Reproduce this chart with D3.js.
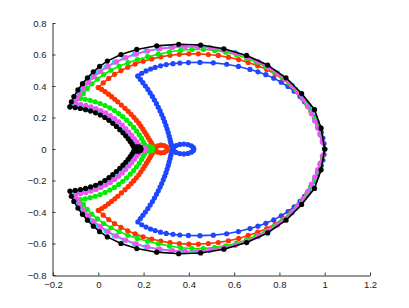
<!DOCTYPE html>
<html>
<head>
<meta charset="utf-8">
<script src="https://cdn.jsdelivr.net/npm/d3@7"></script>
<style>
  html, body { margin: 0; padding: 0; background: #fff; }
  svg { display: block; }
  .tick text { font-family: "Liberation Sans", Arial, sans-serif; font-size: 9.5px; fill: #222; }
</style>
</head>
<body>
<div id="chart"></div>
<script>
// axis ticks
const xTicks = [-0.2, 0, 0.2, 0.4, 0.6, 0.8, 1, 1.2];
const yTicks = [-0.8, -0.6, -0.4, -0.2, 0, 0.2, 0.4, 0.6, 0.8];

// every curve is symmetric about y = 0: upper halves are read off the picture,
// outer arc goes corner -> (1,0), inner arc goes corner -> near the small loop
const blueOuter = [[0.175,0.463],[0.192,0.481],[0.211,0.496],[0.231,0.508],[0.251,0.518],[0.275,0.528],[0.300,0.536],[0.330,0.542],[0.360,0.546],[0.398,0.549],[0.449,0.550],[0.508,0.547],[0.567,0.538],[0.619,0.524],[0.670,0.505],[0.705,0.490],[0.740,0.472],[0.775,0.450],[0.808,0.424],[0.838,0.397],[0.865,0.367],[0.891,0.333],[0.911,0.300],[0.928,0.268],[0.942,0.236],[0.955,0.204],[0.966,0.172],[0.976,0.140],[0.985,0.105],[0.992,0.070],[0.997,0.035],[1.000,0.000]];
const blueInner = [[0.175,0.463],[0.186,0.442],[0.197,0.421],[0.208,0.400],[0.219,0.378],[0.229,0.356],[0.239,0.334],[0.248,0.311],[0.257,0.288],[0.265,0.265],[0.273,0.242],[0.280,0.219],[0.287,0.196],[0.293,0.173],[0.299,0.150],[0.304,0.127],[0.309,0.104],[0.313,0.082],[0.317,0.061],[0.320,0.042],[0.323,0.026],[0.325,0.012]];
const blueLoop = [[0.333,0.012],[0.344,0.022],[0.360,0.029],[0.378,0.031],[0.396,0.028],[0.411,0.020],[0.420,0.009],[0.422,0.000],[0.420,-0.009],[0.411,-0.020],[0.396,-0.028],[0.378,-0.031],[0.360,-0.029],[0.344,-0.022],[0.333,-0.012]];

const redOuter = [[0.000,0.390],[0.022,0.420],[0.046,0.448],[0.072,0.474],[0.100,0.498],[0.130,0.519],[0.163,0.539],[0.198,0.557],[0.236,0.572],[0.276,0.585],[0.317,0.595],[0.358,0.601],[0.400,0.604],[0.442,0.604],[0.486,0.600],[0.530,0.594],[0.575,0.583],[0.620,0.568],[0.662,0.549],[0.704,0.528],[0.744,0.505],[0.782,0.476],[0.817,0.443],[0.849,0.406],[0.877,0.367],[0.901,0.326],[0.922,0.283],[0.940,0.238],[0.956,0.192],[0.969,0.145],[0.980,0.098],[0.990,0.050],[1.000,0.000]];
const redInner = [[0.000,0.390],[0.015,0.378],[0.030,0.364],[0.045,0.348],[0.059,0.332],[0.073,0.316],[0.086,0.300],[0.102,0.279],[0.118,0.258],[0.132,0.239],[0.145,0.220],[0.157,0.201],[0.168,0.183],[0.179,0.164],[0.188,0.145],[0.197,0.126],[0.205,0.108],[0.213,0.090],[0.220,0.073],[0.227,0.057],[0.233,0.042],[0.238,0.029],[0.242,0.017],[0.245,0.007]];
const redLoop = [[0.254,0.012],[0.263,0.020],[0.276,0.024],[0.290,0.022],[0.301,0.013],[0.305,0.000],[0.301,-0.013],[0.290,-0.022],[0.276,-0.024],[0.263,-0.020],[0.254,-0.012]];

const greenOuter = [[-0.080,0.322],[-0.066,0.352],[-0.049,0.383],[-0.028,0.414],[-0.004,0.444],[0.024,0.473],[0.056,0.500],[0.092,0.525],[0.131,0.548],[0.173,0.568],[0.218,0.586],[0.265,0.602],[0.314,0.616],[0.364,0.627],[0.414,0.632],[0.464,0.632],[0.514,0.626],[0.563,0.615],[0.610,0.598],[0.655,0.576],[0.698,0.551],[0.738,0.523],[0.776,0.491],[0.811,0.456],[0.843,0.418],[0.872,0.378],[0.897,0.336],[0.919,0.291],[0.938,0.244],[0.955,0.196],[0.969,0.148],[0.980,0.099],[0.990,0.050],[1.000,0.000]];
const greenInner = [[-0.080,0.322],[-0.058,0.316],[-0.036,0.309],[-0.014,0.300],[0.008,0.289],[0.030,0.276],[0.051,0.261],[0.071,0.244],[0.090,0.225],[0.108,0.205],[0.125,0.183],[0.141,0.160],[0.156,0.137],[0.169,0.113],[0.181,0.090],[0.191,0.067],[0.199,0.046],[0.205,0.028],[0.209,0.013]];
const greenLoop = [[0.216,0.008],[0.222,0.013],[0.230,0.014],[0.237,0.010],[0.240,0.000],[0.237,-0.010],[0.230,-0.014],[0.222,-0.013],[0.216,-0.008]];

const magentaOuter = [[-0.101,0.290],[-0.094,0.318],[-0.082,0.350],[-0.065,0.386],[-0.044,0.423],[-0.019,0.459],[0.010,0.493],[0.043,0.524],[0.080,0.553],[0.122,0.580],[0.168,0.603],[0.218,0.622],[0.272,0.636],[0.328,0.645],[0.384,0.649],[0.440,0.648],[0.496,0.641],[0.552,0.628],[0.606,0.609],[0.658,0.584],[0.707,0.553],[0.752,0.516],[0.790,0.482],[0.824,0.445],[0.855,0.404],[0.881,0.361],[0.904,0.316],[0.924,0.270],[0.941,0.224],[0.956,0.178],[0.969,0.133],[0.980,0.089],[0.990,0.045],[1.000,0.000]];
const magentaInner = [[-0.101,0.290],[-0.078,0.284],[-0.055,0.277],[-0.032,0.268],[-0.010,0.257],[0.012,0.244],[0.033,0.229],[0.053,0.212],[0.072,0.193],[0.090,0.173],[0.106,0.152],[0.121,0.130],[0.135,0.108],[0.148,0.086],[0.160,0.065],[0.170,0.045],[0.178,0.028],[0.184,0.013]];
const magentaLoop = [[0.190,0.007],[0.196,0.011],[0.203,0.011],[0.208,0.006],[0.210,0.000],[0.208,-0.006],[0.203,-0.011],[0.196,-0.011],[0.190,-0.007]];

const cyanOuter = [[-0.107,0.285],[-0.100,0.312],[-0.089,0.344],[-0.072,0.381],[-0.052,0.418],[-0.028,0.455],[0.001,0.490],[0.034,0.521],[0.071,0.551],[0.113,0.578],[0.159,0.602],[0.210,0.622],[0.264,0.637],[0.321,0.647],[0.378,0.652],[0.435,0.652],[0.492,0.645],[0.549,0.632],[0.604,0.613],[0.657,0.588],[0.706,0.557],[0.752,0.520],[0.792,0.483],[0.827,0.447],[0.857,0.405],[0.883,0.362],[0.906,0.317],[0.926,0.271],[0.943,0.225],[0.957,0.178],[0.970,0.133],[0.981,0.089],[0.991,0.045],[1.000,0.000]];
const cyanInner = [[-0.113,0.279],[-0.090,0.273],[-0.067,0.265],[-0.044,0.256],[-0.022,0.245],[0.000,0.232],[0.021,0.217],[0.041,0.200],[0.060,0.181],[0.078,0.161],[0.094,0.140],[0.109,0.118],[0.123,0.097],[0.136,0.076],[0.147,0.056],[0.157,0.038],[0.164,0.023],[0.169,0.010]];
const cyanLoop = [[0.175,0.006],[0.180,0.010],[0.186,0.010],[0.190,0.005],[0.191,0.000],[0.190,-0.005],[0.186,-0.010],[0.180,-0.010],[0.175,-0.006]];

const blackOuter = [[-0.125,0.268],[-0.119,0.300],[-0.108,0.333],[-0.090,0.375],[-0.070,0.415],[-0.048,0.452],[-0.022,0.490],[0.006,0.525],[0.040,0.558],[0.100,0.600],[0.170,0.632],[0.258,0.655],[0.355,0.665],[0.452,0.660],[0.555,0.636],[0.655,0.594],[0.748,0.533],[0.829,0.452],[0.898,0.352],[0.955,0.250],[0.984,0.132],[1.000,0.000]];
const blackInner = [[-0.125,0.268],[-0.102,0.263],[-0.079,0.257],[-0.056,0.250],[-0.034,0.241],[-0.012,0.230],[0.009,0.216],[0.029,0.200],[0.047,0.182],[0.064,0.163],[0.080,0.143],[0.095,0.123],[0.109,0.103],[0.121,0.084],[0.132,0.065],[0.141,0.048],[0.149,0.032],[0.155,0.018],[0.159,0.007]];
const blackLoop = [[0.165,0.008],[0.171,0.013],[0.179,0.014],[0.186,0.010],[0.189,0.000],[0.186,-0.010],[0.179,-0.014],[0.171,-0.013],[0.165,-0.008]];

let w = 409, h = 308;
let padL = 53, padR = 370, padT = 23, padB = 275;

// closed path: upper outer, lower outer, lower inner, loop, upper inner back to corner
function buildCurve(outer, inner, loop) {
  const flip = p => [p[0], -p[1]];
  const outerLow = outer.slice(0, -1).reverse().map(flip);
  const innerLow = inner.slice(1).map(flip);
  const innerUpBack = inner.slice().reverse();
  return [...outer, ...outerLow, ...innerLow, ...loop, ...innerUpBack];
}

// drawing order, black last (on top)
const curves = [
  {color: "#1e46ff", pts: buildCurve(blueOuter, blueInner, blueLoop)},
  {color: "#ff3300", pts: buildCurve(redOuter, redInner, redLoop)},
  {color: "#00ee00", pts: buildCurve(greenOuter, greenInner, greenLoop)},
  {color: "#00e8f0", pts: buildCurve(cyanOuter, cyanInner, cyanLoop)},
  {color: "#ee55ee", pts: buildCurve(magentaOuter, magentaInner, magentaLoop)},
  {color: "#000000", pts: buildCurve(blackOuter, blackInner, blackLoop)}
];

let svg = d3.select("#chart").append("svg")
  .attr("width", w).attr("height", h);

let x = d3.scaleLinear().domain([-0.2, 1.2]).range([padL, padR]);
let y = d3.scaleLinear().domain([-0.8, 0.8]).range([padB, padT]);

let fmt = d => String(d).replace("-", "\u2212");

let xAxis = d3.axisBottom(x).tickValues(xTicks).tickFormat(fmt).tickSizeInner(-3).tickSizeOuter(0).tickPadding(6);
let gx = svg.append("g").attr("transform", `translate(0, ${padB + 0.5})`).call(xAxis);

let yAxis = d3.axisLeft(y).tickValues(yTicks).tickFormat(fmt).tickSizeInner(-3).tickSizeOuter(0).tickPadding(6);
let gy = svg.append("g").attr("transform", `translate(${padL - 0.5}, 0)`).call(yAxis);

[gx, gy].forEach(g => {
  g.select(".domain").attr("stroke", "#333").attr("stroke-width", 1);
  g.selectAll(".tick line").attr("stroke", "#333");
});

let line = d3.line().x(d => x(d[0])).y(d => y(d[1]));

curves.forEach(c => {
  let g = svg.append("g");
  g.append("path")
    .attr("d", line(c.pts))
    .attr("fill", "none")
    .attr("stroke", c.color)
    .attr("stroke-width", 1.6)
    .attr("stroke-linejoin", "round");
  g.selectAll("circle").data(c.pts).enter().append("circle")
    .attr("cx", d => x(d[0]))
    .attr("cy", d => y(d[1]))
    .attr("r", 2.6)
    .attr("fill", c.color);
});
</script>
</body>
</html>
